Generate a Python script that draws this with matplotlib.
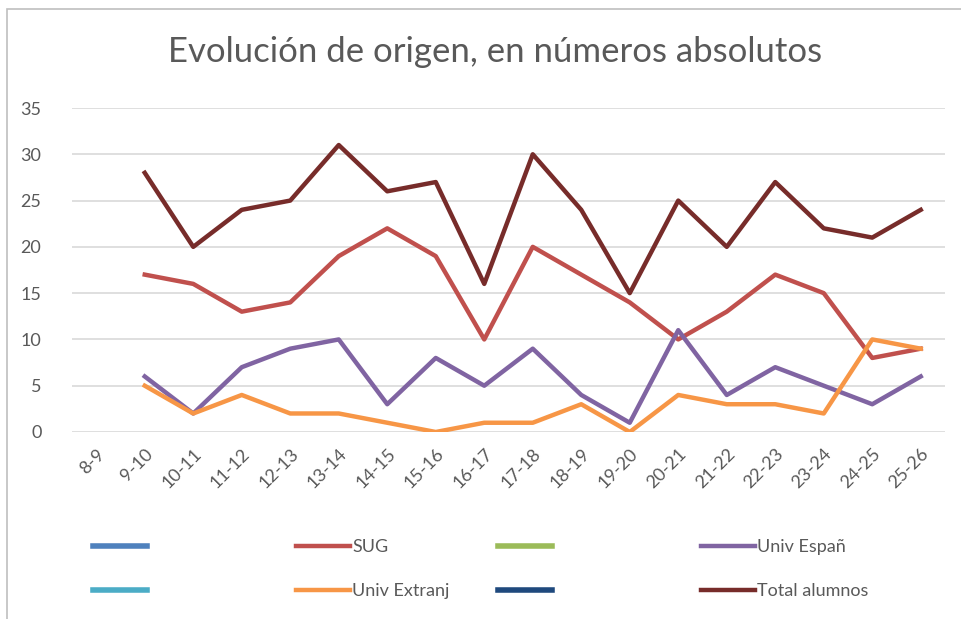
import numpy as np
import matplotlib.pyplot as plt
from matplotlib.lines import Line2D
from matplotlib.patches import Rectangle

plt.rcParams['font.family'] = ['Lato', 'DejaVu Sans']

# datos
cursos = ['8-9', '9-10', '10-11', '11-12', '12-13', '13-14', '14-15', '15-16', '16-17',
          '17-18', '18-19', '19-20', '20-21', '21-22', '22-23', '23-24', '24-25', '25-26']
sug = [np.nan, 17, 16, 13, 14, 19, 22, 19, 10, 20, 17, 14, 10, 13, 17, 15, 8, 9]
univ_espan = [np.nan, 6, 2, 7, 9, 10, 3, 8, 5, 9, 4, 1, 11, 4, 7, 5, 3, 6]
univ_extranj = [np.nan, 5, 2, 4, 2, 2, 1, 0, 1, 1, 3, 0, 4, 3, 3, 2, 10, 9]
total = [np.nan, 28, 20, 24, 25, 31, 26, 27, 16, 30, 24, 15, 25, 20, 27, 22, 21, 24]

W, H = 961, 619
fig = plt.figure(figsize=(W / 100, H / 100), dpi=100)
ax = fig.add_axes([72 / W, 1 - 432 / H, (945 - 72) / W, (432 - 108) / H])

# borde del área del gráfico
fig.patches.append(Rectangle((7 / W, -0.05), 1.1, 1 - 9 / H + 0.05, transform=fig.transFigure,
                             fill=False, edgecolor='#BFBFBF', linewidth=1.2))

x = np.arange(len(cursos))
lw = 3.2
l_sug, = ax.plot(x, sug, color='#C0504D', lw=lw, label='SUG')
l_esp, = ax.plot(x, univ_espan, color='#8064A2', lw=lw, label='Univ Españ')
l_ext, = ax.plot(x, univ_extranj, color='#F79646', lw=lw, label='Univ Extranj')
l_tot, = ax.plot(x, total, color='#772C2A', lw=lw, label='Total alumnos')

ax.set_xlim(-0.5, len(cursos) - 0.5)
ax.set_ylim(0, 35)
ax.set_yticks(range(0, 36, 5))
ax.set_xticks(x)
ax.set_xticklabels(cursos, rotation=45, ha='right', rotation_mode='anchor')
ax.tick_params(axis='both', length=0, labelsize=13, labelcolor='#595959')
ax.tick_params(axis='y', pad=22)
ax.tick_params(axis='x', pad=10)
ax.grid(axis='y', color='#D9D9D9', lw=1.2)
ax.set_axisbelow(True)
for s in ax.spines.values():
    s.set_visible(False)

fig.text(495 / W, 1 - 52 / H, 'Evolución de origen, en números absolutos', ha='center', va='center',
         fontsize=25, color='#595959')

# leyenda en 4 columnas
columnas = [
    [Line2D([], [], color='#4F81BD', lw=4), Line2D([], [], color='#4BACC6', lw=4)],
    [l_sug, l_ext],
    [Line2D([], [], color='#9BBB59', lw=4), Line2D([], [], color='#1F497D', lw=4)],
    [l_esp, l_tot],
]
etiquetas = [['', ''], ['SUG', 'Univ Extranj'], ['', ''], ['Univ Españ', 'Total alumnos']]
xs = [93, 296, 498, 701]
for hs, ls, xp in zip(columnas, etiquetas, xs):
    fig.legend(hs, ls, loc='center left', bbox_to_anchor=(xp / W, 1 - 569 / H), frameon=False,
               fontsize=13, labelcolor='#595959', handlelength=3.0, handletextpad=0.1,
               labelspacing=1.55, borderpad=0, borderaxespad=0)

fig.savefig('out.png', dpi=100)
